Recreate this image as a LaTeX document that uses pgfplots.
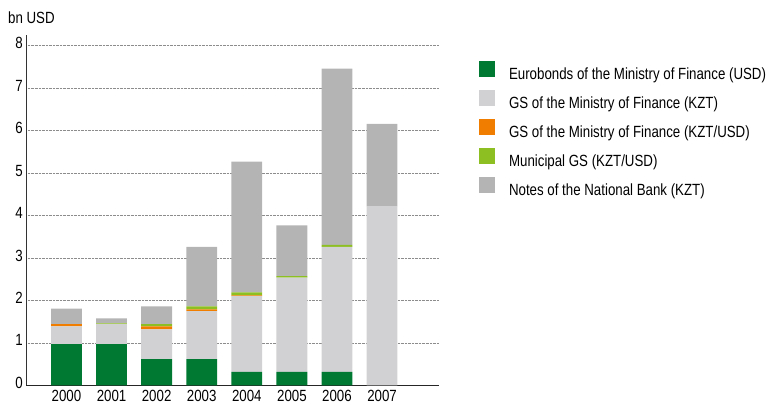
\documentclass[border=0pt]{standalone}
\usepackage{pgfplots}
\pgfplotsset{compat=1.18}
\usepackage{fontspec}
\setmainfont{Liberation Sans}[FakeStretch=0.82]
\definecolor{cEuro}{HTML}{007A33}
\definecolor{cGSK}{HTML}{D1D1D3}
\definecolor{cGSKU}{HTML}{F07D00}
\definecolor{cMun}{HTML}{8DBE22}
\definecolor{cNotes}{HTML}{B3B4B3}
\begin{document}
\begin{tikzpicture}
\path (0,0) rectangle (769pt,407pt);
\begin{axis}[
  at={(26.5pt,19.3pt)}, anchor=south west,
  scale only axis, width=415.5pt, height=352pt,
  ybar stacked, bar width=31pt,
  xmin=-0.89, xmax=8.27, ymin=0, ymax=8.24,
  xtick={0,...,7}, xticklabels={2000,2001,2002,2003,2004,2005,2006,2007},
  ytick={0,...,8},
  major tick length=0pt,
  axis x line*=bottom, axis y line*=left,
  x axis line style={-, black!85, line width=1.2pt},
  y axis line style={-, black!80, line width=0.8pt},
  ymajorgrids, grid style={densely dotted, black!45, line width=0.7pt},
  tick label style={font=\fontsize{16.3}{17}\selectfont},
  /pgf/number format/assume math mode=true,
  yticklabel style={xshift=0pt, yshift=2.5pt},
  xticklabel style={yshift=-1pt},
  legend style={at={(1.089,0.934)}, anchor=north west, draw=none, fill=none,
    font=\fontsize{16.3}{17}\selectfont, row sep=8.7pt,
    nodes={inner sep=0pt, text height=11.5pt, text depth=1.5pt}},
  legend cell align=left,
  legend image code/.code={\fill[#1] (0pt,-2pt) rectangle (16pt,14pt); \path (30pt,0pt);},
]
\addplot[draw=none, fill=cEuro] coordinates {(0,0.97) (1,0.97) (2,0.62) (3,0.62) (4,0.32) (5,0.32) (6,0.32) (7,0)};
\addplot[draw=none, fill=cGSK] coordinates {(0,0.42) (1,0.47) (2,0.70) (3,1.13) (4,1.78) (5,2.22) (6,2.94) (7,4.22)};
\addplot[draw=none, fill=cGSKU] coordinates {(0,0.05) (1,0) (2,0.07) (3,0.04) (4,0.02) (5,0) (6,0) (7,0)};
\addplot[draw=none, fill=cMun] coordinates {(0,0) (1,0.02) (2,0.05) (3,0.07) (4,0.07) (5,0.03) (6,0.05) (7,0)};
\addplot[draw=none, fill=cNotes] coordinates {(0,0.37) (1,0.12) (2,0.42) (3,1.40) (4,3.08) (5,1.20) (6,4.15) (7,1.94)};
\legend{Eurobonds of the Ministry of Finance (USD),GS of the Ministry of Finance (KZT),GS of the Ministry of Finance (KZT/USD),Municipal GS (KZT/USD),Notes of the National Bank (KZT)}
\end{axis}
\node[anchor=west, inner sep=0pt, font=\fontsize{16.3}{17}\selectfont] at (8pt,389.5pt) {bn USD};
\end{tikzpicture}
\end{document}
